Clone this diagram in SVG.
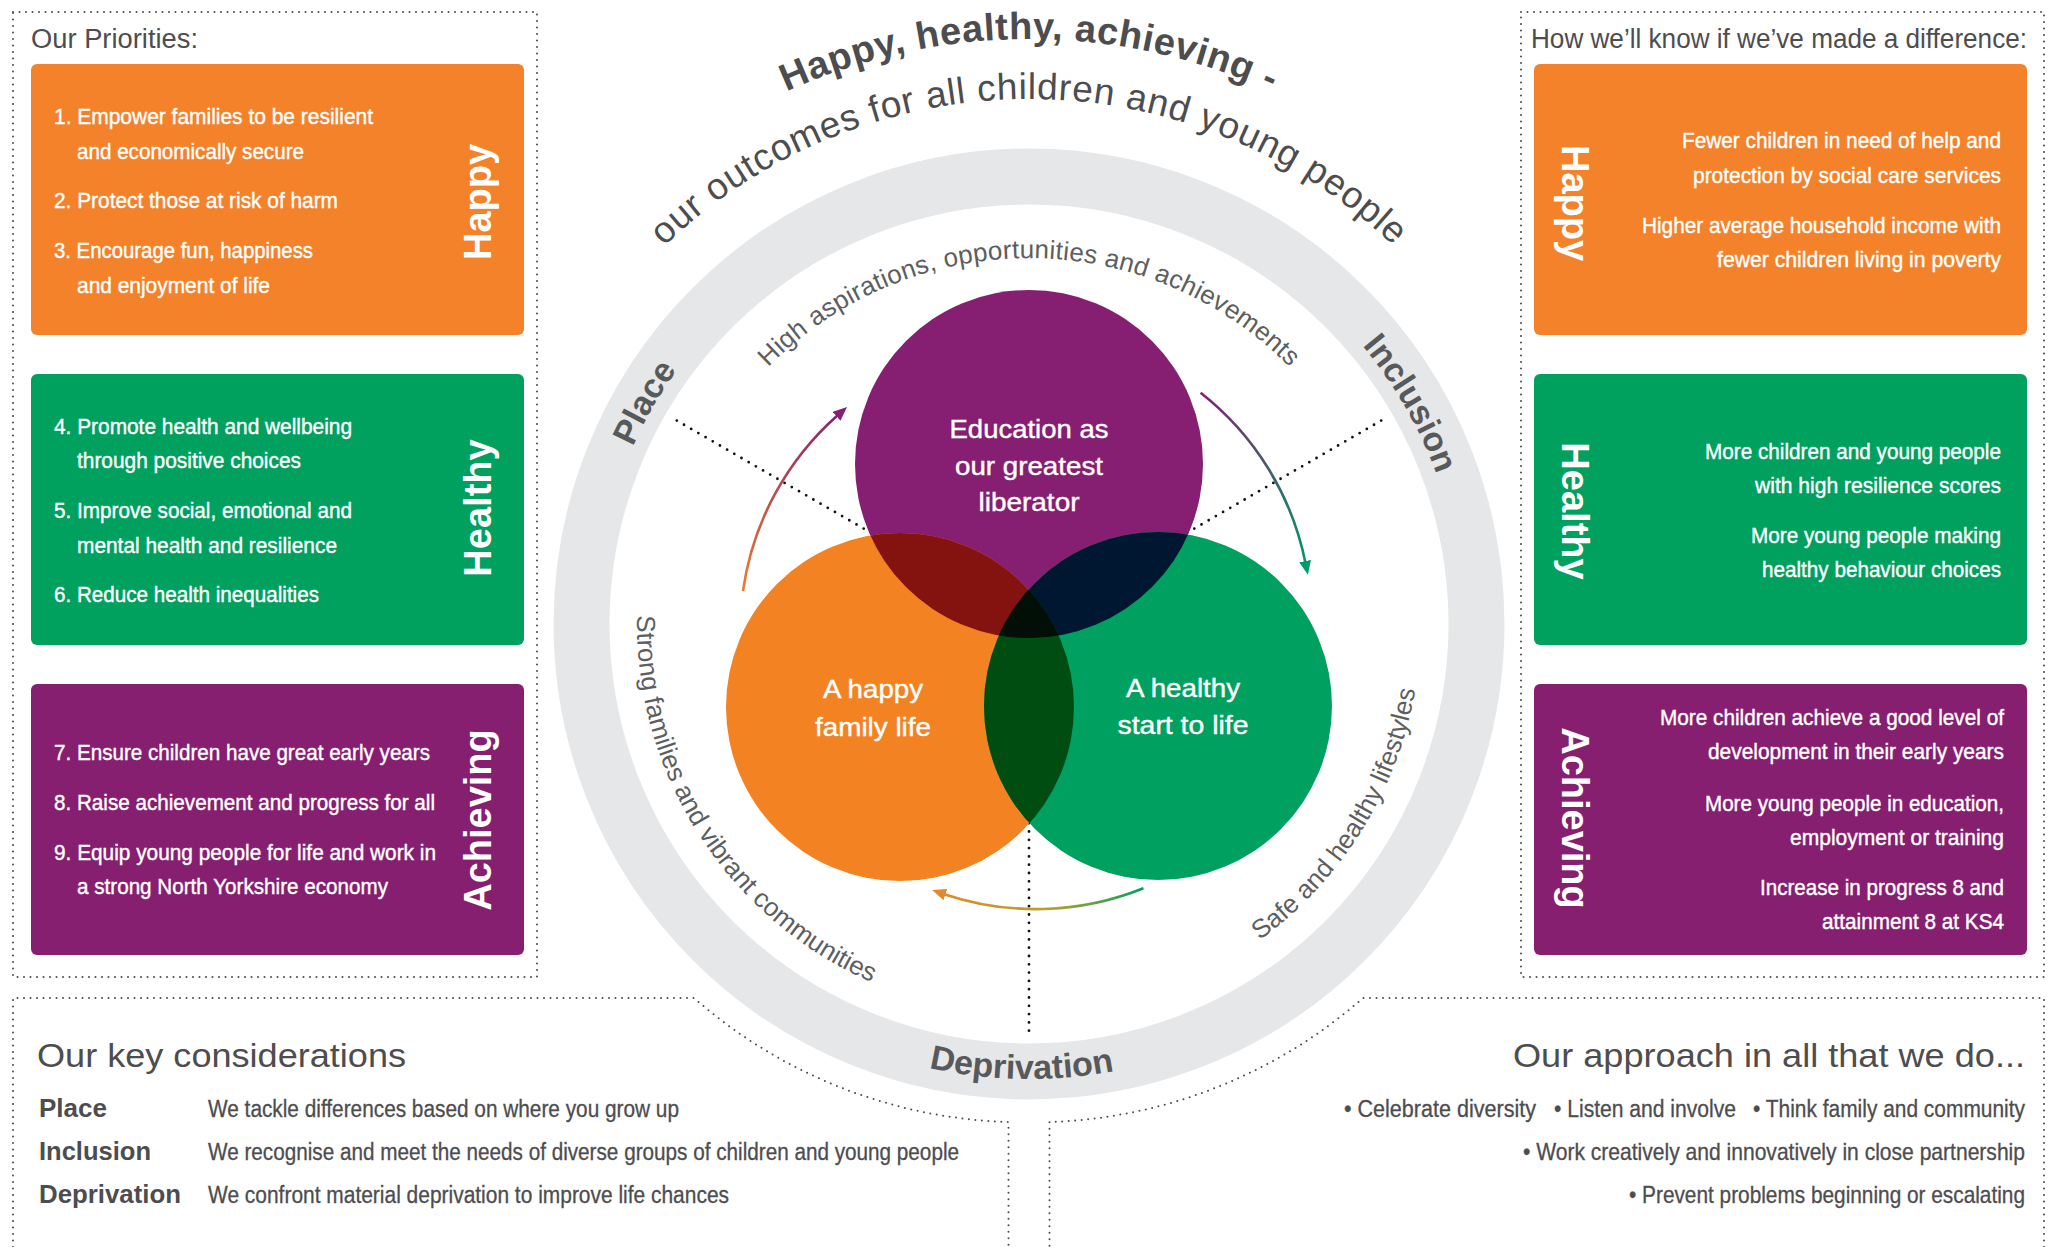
<svg xmlns="http://www.w3.org/2000/svg" xmlns:xlink="http://www.w3.org/1999/xlink" width="2060" height="1247" viewBox="0 0 2060 1247">
<style>
.pd{fill:none;stroke:#4a4a4a;stroke-width:2;stroke-linecap:round;stroke-dasharray:0 6.5}
.rd{fill:none;stroke:#111;stroke-width:2.8;stroke-linecap:round;stroke-dasharray:0 8.3}
.n{font-family:'Liberation Sans Narrow','Liberation Sans',Arial,sans-serif}
.s{font-family:'Liberation Sans',Arial,sans-serif}
.it{font-size:22px;fill:#fff;stroke:#fff;stroke-width:0.4}
.vl{font-family:'Liberation Sans',Arial,sans-serif;font-weight:bold;font-size:38px;fill:#fff;text-anchor:middle}
.dg{fill:#4d4d4f}
.nd{stroke:#4d4d4f;stroke-width:0.3}
.ve{font-size:25px;fill:#fff;stroke:#fff;stroke-width:0.4;text-anchor:middle}
.ring{font-family:'Liberation Sans',Arial,sans-serif;font-weight:bold;font-size:34px;fill:#58595b}
.cv{font-family:'Liberation Sans',Arial,sans-serif;font-size:26px;fill:#5d5e60}
.arr{fill:none;stroke-width:2.6}
.end{text-anchor:end}
</style>
<defs>
<path id="pTitle" d="M 444 624 A 585 585 0 0 1 1614 624"/>
<path id="pSub" d="M 504 624 A 525 525 0 0 1 1554 624"/>
<path id="pHigh" d="M 663 624 A 366 366 0 0 1 1395 624"/>
<path id="pRing" d="M 595 624 A 434 434 0 1 1 1463 624 A 434 434 0 1 1 595 624"/>
<path id="pDep" d="M 574 624 A 455 455 0 0 0 1484 624"/>
<path id="pIn" d="M 637.5 603.5 A 392 392 0 1 0 1420.5 603.5"/>
<clipPath id="cO"><circle cx="900" cy="707" r="174"/></clipPath>
<clipPath id="cG"><circle cx="1158" cy="706" r="174"/></clipPath>
<linearGradient id="g1" gradientUnits="userSpaceOnUse" x1="743" y1="591" x2="840" y2="412"><stop offset="0" stop-color="#ee7a2c"/><stop offset="1" stop-color="#862072"/></linearGradient>
<linearGradient id="g2" gradientUnits="userSpaceOnUse" x1="743" y1="591" x2="840" y2="412"><stop offset="0" stop-color="#862072"/><stop offset="1" stop-color="#009b68"/></linearGradient>
<linearGradient id="g3" gradientUnits="userSpaceOnUse" x1="743" y1="591" x2="840" y2="412"><stop offset="0" stop-color="#00a060"/><stop offset="0.45" stop-color="#b5a02a"/><stop offset="1" stop-color="#e3892a"/></linearGradient>
<marker id="m1" markerUnits="userSpaceOnUse" markerWidth="14" markerHeight="12" refX="2" refY="6" orient="auto"><path d="M0,0 L14,6 L0,12 z" fill="#862072"/></marker>
<marker id="m2" markerUnits="userSpaceOnUse" markerWidth="14" markerHeight="12" refX="2" refY="6" orient="auto"><path d="M0,0 L14,6 L0,12 z" fill="#009b68"/></marker>
<marker id="m3" markerUnits="userSpaceOnUse" markerWidth="14" markerHeight="12" refX="2" refY="6" orient="auto"><path d="M0,0 L14,6 L0,12 z" fill="#e3892a"/></marker>
</defs>
<rect width="2060" height="1247" fill="#fff"/>

<g id="panels">
<rect class="pd" x="13" y="12" width="524" height="965"/>
<rect class="pd" x="1521" y="12" width="523" height="965"/>
<path class="pd" d="M 13 1247 V 998 H 694 A 500 500 0 0 0 1008.5 1122 V 1247"/>
<path class="pd" d="M 2044 1247 V 998 H 1363 A 500 500 0 0 1 1049.5 1122 V 1247"/>
</g>

<g id="priorities">
<text class="s dg" x="31" y="48" font-size="27" textLength="167" lengthAdjust="spacingAndGlyphs">Our Priorities:</text>
<g id="pri-happy">
<rect x="31" y="64" width="493" height="271" rx="6" fill="#f3822a"/>
<text class="n it" x="54" y="124" textLength="319" lengthAdjust="spacingAndGlyphs">1. Empower families to be resilient</text>
<text class="n it" x="77" y="159" textLength="227" lengthAdjust="spacingAndGlyphs">and economically secure</text>
<text class="n it" x="54" y="208" textLength="284" lengthAdjust="spacingAndGlyphs">2. Protect those at risk of harm</text>
<text class="n it" x="54" y="258" textLength="259" lengthAdjust="spacingAndGlyphs">3. Encourage fun, happiness</text>
<text class="n it" x="77" y="293" textLength="193" lengthAdjust="spacingAndGlyphs">and enjoyment of life</text>
<text class="vl" transform="translate(491 202) rotate(-90)">Happy</text>
</g>
<g id="pri-healthy">
<rect x="31" y="374" width="493" height="271" rx="6" fill="#00a05f"/>
<text class="n it" x="54" y="434" textLength="298" lengthAdjust="spacingAndGlyphs">4. Promote health and wellbeing</text>
<text class="n it" x="77" y="468" textLength="224" lengthAdjust="spacingAndGlyphs">through positive choices</text>
<text class="n it" x="54" y="518" textLength="298" lengthAdjust="spacingAndGlyphs">5. Improve social, emotional and</text>
<text class="n it" x="77" y="553" textLength="260" lengthAdjust="spacingAndGlyphs">mental health and resilience</text>
<text class="n it" x="54" y="602" textLength="265" lengthAdjust="spacingAndGlyphs">6. Reduce health inequalities</text>
<text class="vl" transform="translate(491 508) rotate(-90)">Healthy</text>
</g>
<g id="pri-achieving">
<rect x="31" y="684" width="493" height="271" rx="6" fill="#861f70"/>
<text class="n it" x="54" y="760" textLength="376" lengthAdjust="spacingAndGlyphs">7. Ensure children have great early years</text>
<text class="n it" x="54" y="810" textLength="381" lengthAdjust="spacingAndGlyphs">8. Raise achievement and progress for all</text>
<text class="n it" x="54" y="860" textLength="382" lengthAdjust="spacingAndGlyphs">9. Equip young people for life and work in</text>
<text class="n it" x="77" y="894" textLength="311" lengthAdjust="spacingAndGlyphs">a strong North Yorkshire economy</text>
<text class="vl" transform="translate(491 820) rotate(-90)">Achieving</text>
</g>
</g>

<g id="measures">
<text class="s dg" x="1531" y="48" font-size="27" textLength="496" lengthAdjust="spacingAndGlyphs">How we’ll know if we’ve made a difference:</text>
<g id="m-happy">
<rect x="1534" y="64" width="493" height="271" rx="6" fill="#f3822a"/>
<text class="vl" transform="translate(1562 203) rotate(90)">Happy</text>
<text class="n it end" x="2001" y="148" textLength="319" lengthAdjust="spacingAndGlyphs">Fewer children in need of help and</text>
<text class="n it end" x="2001" y="183" textLength="308" lengthAdjust="spacingAndGlyphs">protection by social care services</text>
<text class="n it end" x="2001" y="233" textLength="359" lengthAdjust="spacingAndGlyphs">Higher average household income with</text>
<text class="n it end" x="2001" y="267" textLength="284" lengthAdjust="spacingAndGlyphs">fewer children living in poverty</text>
</g>
<g id="m-healthy">
<rect x="1534" y="374" width="493" height="271" rx="6" fill="#00a05f"/>
<text class="vl" transform="translate(1562 511) rotate(90)">Healthy</text>
<text class="n it end" x="2001" y="459" textLength="296" lengthAdjust="spacingAndGlyphs">More children and young people</text>
<text class="n it end" x="2001" y="493" textLength="246" lengthAdjust="spacingAndGlyphs">with high resilience scores</text>
<text class="n it end" x="2001" y="543" textLength="250" lengthAdjust="spacingAndGlyphs">More young people making</text>
<text class="n it end" x="2001" y="577" textLength="239" lengthAdjust="spacingAndGlyphs">healthy behaviour choices</text>
</g>
<g id="m-achieving">
<rect x="1534" y="684" width="493" height="271" rx="6" fill="#861f70"/>
<text class="vl" transform="translate(1562 818) rotate(90)">Achieving</text>
<text class="n it end" x="2004" y="725" textLength="344" lengthAdjust="spacingAndGlyphs">More children achieve a good level of</text>
<text class="n it end" x="2004" y="759" textLength="296" lengthAdjust="spacingAndGlyphs">development in their early years</text>
<text class="n it end" x="2004" y="811" textLength="299" lengthAdjust="spacingAndGlyphs">More young people in education,</text>
<text class="n it end" x="2004" y="845" textLength="214" lengthAdjust="spacingAndGlyphs">employment or training</text>
<text class="n it end" x="2004" y="895" textLength="244" lengthAdjust="spacingAndGlyphs">Increase in progress 8 and</text>
<text class="n it end" x="2004" y="929" textLength="182" lengthAdjust="spacingAndGlyphs">attainment 8 at KS4</text>
</g>
</g>

<g id="outcomes-ring">
<circle cx="1029" cy="624" r="447.5" fill="none" stroke="#e6e7e8" stroke-width="56"/>
<text class="s dg" font-size="38" font-weight="bold" letter-spacing="0.6" text-anchor="middle"><textPath xlink:href="#pTitle" href="#pTitle" startOffset="50%">Happy, healthy, achieving -</textPath></text>
<text class="s dg" font-size="37" letter-spacing="0.8" text-anchor="middle"><textPath xlink:href="#pSub" href="#pSub" startOffset="50%">our outcomes for all children and young people</textPath></text>
<text class="ring" text-anchor="middle"><textPath xlink:href="#pRing" href="#pRing" startOffset="227">Place</textPath></text>
<text class="ring" text-anchor="middle"><textPath xlink:href="#pRing" href="#pRing" startOffset="1136">Inclusion</textPath></text>
<text class="ring" text-anchor="middle"><textPath xlink:href="#pDep" href="#pDep" startOffset="707">Deprivation</textPath></text>
<text class="cv" text-anchor="middle" letter-spacing="0.25"><textPath xlink:href="#pHigh" href="#pHigh" startOffset="50%">High aspirations, opportunities and achievements</textPath></text>
<text class="cv"><textPath xlink:href="#pIn" href="#pIn" startOffset="12">Strong families and vibrant communities</textPath></text>
<text class="cv"><textPath xlink:href="#pIn" href="#pIn" startOffset="882">Safe and healthy lifestyles</textPath></text>
</g>

<g id="connectors">
<line class="rd" x1="1029" y1="624" x2="674" y2="419"/>
<line class="rd" x1="1029" y1="624" x2="1384" y2="419"/>
<line class="rd" x1="1029" y1="624" x2="1029" y2="1034"/>
<path class="arr" stroke="url(#g1)" marker-end="url(#m1)" d="M 743 591 A 288 288 0 0 1 838 415"/>
<path class="arr" stroke="url(#g2)" marker-end="url(#m2)" transform="rotate(120 1029 624)" d="M 743 591 A 288 288 0 0 1 838 415"/>
<path class="arr" stroke="url(#g3)" marker-end="url(#m3)" transform="rotate(240 1029 624)" d="M 743 591 A 288 288 0 0 1 838 415"/>
</g>

<g id="venn">
<g id="c-education"><circle cx="1029" cy="464" r="174" fill="#861f72"/></g>
<g id="c-happy"><circle cx="900" cy="707" r="174" fill="#f28222"/></g>
<g id="c-healthy"><circle cx="1158" cy="706" r="174" fill="#00a160"/></g>
<circle cx="1029" cy="464" r="174" fill="#84130f" clip-path="url(#cO)"/>
<circle cx="1029" cy="464" r="174" fill="#001731" clip-path="url(#cG)"/>
<circle cx="900" cy="707" r="174" fill="#004d11" clip-path="url(#cG)"/>
<g clip-path="url(#cG)"><circle cx="1029" cy="464" r="174" fill="#020f06" clip-path="url(#cO)"/></g>
<text class="n ve" x="1029" y="438" textLength="159" lengthAdjust="spacingAndGlyphs">Education as</text>
<text class="n ve" x="1029" y="475" textLength="148" lengthAdjust="spacingAndGlyphs">our greatest</text>
<text class="n ve" x="1029" y="511" textLength="101" lengthAdjust="spacingAndGlyphs">liberator</text>
<text class="n ve" x="873" y="698" textLength="100" lengthAdjust="spacingAndGlyphs">A happy</text>
<text class="n ve" x="873" y="736" textLength="116" lengthAdjust="spacingAndGlyphs">family life</text>
<text class="n ve" x="1183" y="697" textLength="114" lengthAdjust="spacingAndGlyphs">A healthy</text>
<text class="n ve" x="1183" y="734" textLength="131" lengthAdjust="spacingAndGlyphs">start to life</text>
</g>

<g id="considerations">
<text class="s dg" x="37" y="1067" font-size="33" textLength="369" lengthAdjust="spacingAndGlyphs">Our key considerations</text>
<text class="n dg" x="39" y="1117" font-size="25" font-weight="bold" textLength="68" lengthAdjust="spacingAndGlyphs">Place</text>
<text class="n dg" x="39" y="1160" font-size="25" font-weight="bold" textLength="112" lengthAdjust="spacingAndGlyphs">Inclusion</text>
<text class="n dg" x="39" y="1203" font-size="25" font-weight="bold" textLength="142" lengthAdjust="spacingAndGlyphs">Deprivation</text>
<text class="n dg nd" x="208" y="1117" font-size="23" textLength="471" lengthAdjust="spacingAndGlyphs">We tackle differences based on where you grow up</text>
<text class="n dg nd" x="208" y="1160" font-size="23" textLength="751" lengthAdjust="spacingAndGlyphs">We recognise and meet the needs of diverse groups of children and young people</text>
<text class="n dg nd" x="208" y="1203" font-size="23" textLength="521" lengthAdjust="spacingAndGlyphs">We confront material deprivation to improve life chances</text>
</g>

<g id="approach">
<text class="s dg end" x="2025" y="1067" font-size="33" textLength="512" lengthAdjust="spacingAndGlyphs">Our approach in all that we do...</text>
<text class="n dg nd end" x="1536" y="1117" font-size="23" textLength="192" lengthAdjust="spacingAndGlyphs">• Celebrate diversity</text>
<text class="n dg nd end" x="1736" y="1117" font-size="23" textLength="182" lengthAdjust="spacingAndGlyphs">• Listen and involve</text>
<text class="n dg nd end" x="2025" y="1117" font-size="23" textLength="272" lengthAdjust="spacingAndGlyphs">• Think family and community</text>
<text class="n dg nd end" transform="translate(2025 1160) scale(0.85 1)" font-size="23" textLength="590.6" lengthAdjust="spacingAndGlyphs">• Work creatively and innovatively in close partnership</text>
<text class="n dg nd end" transform="translate(2025 1203) scale(0.85 1)" font-size="23" textLength="465.9" lengthAdjust="spacingAndGlyphs">• Prevent problems beginning or escalating</text>
</g>
</svg>
